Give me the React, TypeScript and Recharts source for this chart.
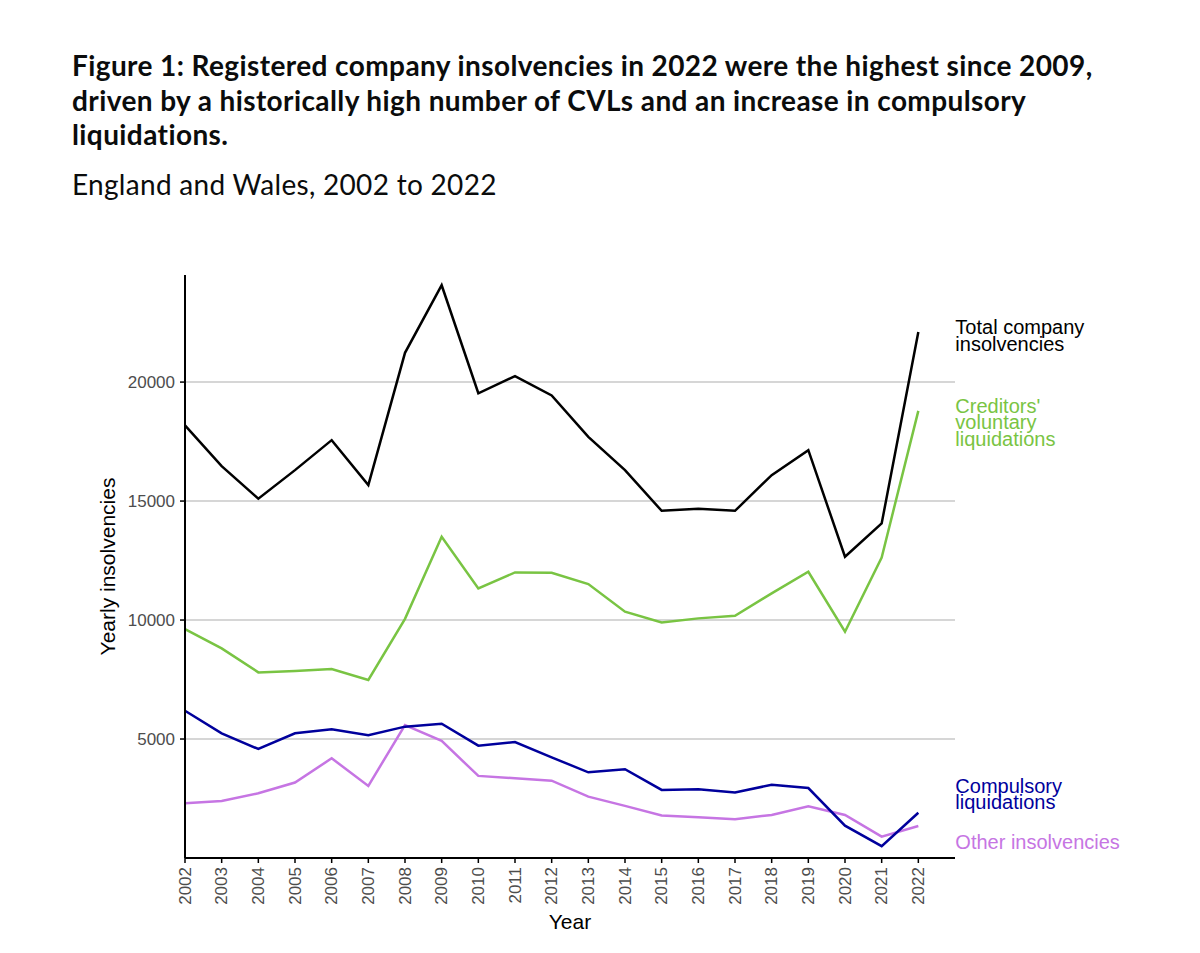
import React from "react";
import { LineChart, Line, XAxis, YAxis, CartesianGrid } from "recharts";

const years = [2002, 2003, 2004, 2005, 2006, 2007, 2008, 2009, 2010, 2011, 2012, 2013, 2014, 2015, 2016, 2017, 2018, 2019, 2020, 2021, 2022];
const totalInsolvencies = [18180, 16470, 15100, 16300, 17560, 15670, 21230, 24070, 19530, 20250, 19440, 17700, 16300, 14590, 14680, 14590, 16090, 17140, 12660, 14060, 22100];
const cvls = [9620, 8810, 7800, 7860, 7940, 7480, 10050, 13500, 11330, 12000, 11990, 11510, 10350, 9900, 10070, 10180, 11120, 12030, 9510, 12630, 18790];
const compulsory = [6190, 5240, 4580, 5240, 5410, 5160, 5520, 5640, 4720, 4870, 4230, 3600, 3730, 2860, 2890, 2750, 3080, 2940, 1360, 500, 1900];
const other = [2300, 2400, 2720, 3170, 4190, 3030, 5590, 4920, 3450, 3350, 3250, 2580, 2190, 1790, 1710, 1630, 1810, 2170, 1810, 900, 1345];
const yTicks = [5000, 10000, 15000, 20000];

const seriesLabels = {
  total: ["Total company", "insolvencies"],
  cvl: ["Creditors'", "voluntary", "liquidations"],
  comp: ["Compulsory", "liquidations"],
  other: ["Other insolvencies"],
};

const data = years.map((y, i) => ({
  year: y,
  total: totalInsolvencies[i],
  cvl: cvls[i],
  comp: compulsory[i],
  other: other[i],
}));

const COLORS = {
  total: "#000000",
  cvl: "#79c443",
  comp: "#00009c",
  other: "#c675e3",
};

const FONT = "Liberation Sans, Arial, sans-serif";

const makeEndLabel = (lines: string[], color: string, dy: number) => (props: any) => {
  const { x, y, index } = props;
  if (index !== years.length - 1) return null;
  return (
    <text
      x={x + 37}
      y={y + dy}
      fill={color}
      fontFamily={FONT}
      fontSize={20}
      dominantBaseline="central"
    >
      {lines.map((l, i) => (
        <tspan key={i} x={x + 37} dy={i === 0 ? 0 : 16.5}>
          {l}
        </tspan>
      ))}
    </text>
  );
};

const XTick = (props: any) => {
  const { x, y, payload } = props;
  return (
    <text
      x={x}
      y={y}
      transform={`rotate(-90, ${x}, ${y})`}
      textAnchor="end"
      dominantBaseline="central"
      fill="#4d4d4d"
      fontSize={17}
      fontFamily={FONT}
    >
      {payload.value}
    </text>
  );
};

export default function App() {
  return (
    <div style={{ position: "absolute", left: 0, top: 0, width: 1200, height: 953, background: "#fff" }}>
      <div
        style={{
          position: "absolute",
          left: 72,
          top: 48,
          width: 1120,
          fontFamily: "Lato, 'Noto Sans', sans-serif",
          fontWeight: 700,
          fontSize: 28,
          letterSpacing: "0.4px",
          lineHeight: "34.5px",
          color: "#0b0c0c",
          whiteSpace: "nowrap",
        }}
      >
        Figure 1: Registered company insolvencies in 2022 were the highest since 2009,
        <br />
        driven by a historically high number of CVLs and an increase in compulsory
        <br />
        liquidations.
      </div>
      <div
        style={{
          position: "absolute",
          left: 72,
          top: 167,
          fontFamily: "Lato, 'Noto Sans', sans-serif",
          fontSize: 28,
          letterSpacing: "0.3px",
          color: "#0b0c0c",
          whiteSpace: "nowrap",
        }}
      >
        England and Wales, 2002 to 2022
      </div>
      <div style={{ position: "absolute", left: 0, top: 0 }}>
        <LineChart
          width={1200}
          height={953}
          data={data}
          margin={{ top: 275, right: 245, bottom: 35, left: 105 }}
        >
          <CartesianGrid vertical={false} stroke="#c8c8c8" strokeWidth={1.5} horizontalValues={yTicks} />
          <XAxis
            dataKey="year"
            type="number"
            domain={[2002, 2023]}
            ticks={years}
            interval={0}
            height={60}
            tick={<XTick />}
            tickSize={5}
            tickMargin={4}
            stroke="#000"
            strokeWidth={2}
            tickLine={{ stroke: "#000", strokeWidth: 1.5 }}
            label={{
              value: "Year",
              position: "insideBottom",
              offset: -11,
              fill: "#000",
              fontSize: 21,
              fontFamily: FONT,
            }}
          />
          <YAxis
            type="number"
            domain={[0, 24500]}
            ticks={yTicks}
            width={80}
            tickSize={5}
            tickMargin={5}
            stroke="#000"
            strokeWidth={2}
            tickLine={{ stroke: "#000", strokeWidth: 1.5 }}
            tick={{ fill: "#4d4d4d", fontSize: 17, fontFamily: FONT }}
            label={{
              value: "Yearly insolvencies",
              angle: -90,
              position: "insideLeft",
              offset: 0,
              dx: 3,
              fill: "#000",
              fontSize: 21,
              fontFamily: FONT,
              style: { textAnchor: "middle" },
            }}
          />
          <Line
            dataKey="other"
            stroke={COLORS.other}
            strokeWidth={2.5}
            dot={false}
            isAnimationActive={false}
            label={makeEndLabel(seriesLabels.other, COLORS.other, 16)}
          />
          <Line
            dataKey="comp"
            stroke={COLORS.comp}
            strokeWidth={2.5}
            dot={false}
            isAnimationActive={false}
            label={makeEndLabel(seriesLabels.comp, COLORS.comp, -27)}
          />
          <Line
            dataKey="cvl"
            stroke={COLORS.cvl}
            strokeWidth={2.5}
            dot={false}
            isAnimationActive={false}
            label={makeEndLabel(seriesLabels.cvl, COLORS.cvl, -5)}
          />
          <Line
            dataKey="total"
            stroke={COLORS.total}
            strokeWidth={2.5}
            dot={false}
            isAnimationActive={false}
            label={makeEndLabel(seriesLabels.total, COLORS.total, -5)}
          />
        </LineChart>
      </div>
    </div>
  );
}
